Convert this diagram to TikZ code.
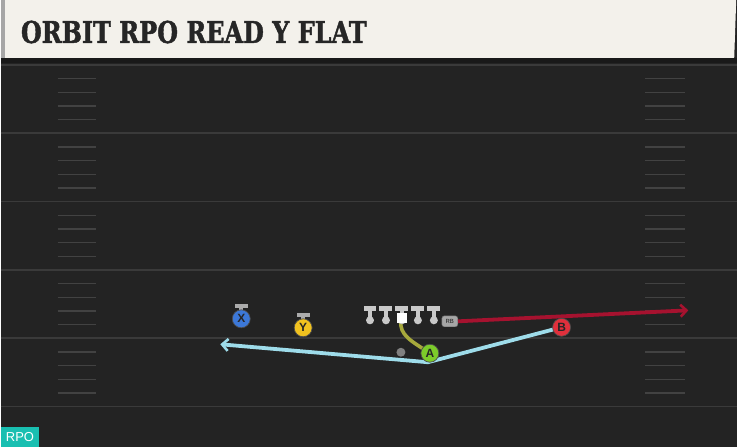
\documentclass[tikz,border=0pt]{standalone}
\usepackage{fontspec}
\usepackage{graphicx}
\usetikzlibrary{arrows.meta}
\setmainfont{Liberation Sans}
\newfontfamily\titlefont{DejaVu Serif}[BoldFeatures={FakeBold=1.6}]

\definecolor{field}{HTML}{232323}
\definecolor{yardline}{HTML}{3A3A3A}
\definecolor{hashline}{HTML}{424242}
\definecolor{header}{HTML}{F3F1EB}
\definecolor{lineman}{HTML}{C9C9C9}
\definecolor{routeblue}{HTML}{9EDCEA}
\definecolor{routered}{HTML}{A6122F}
\definecolor{routeolive}{HTML}{A7A93C}
\definecolor{xblue}{HTML}{3C78D8}
\definecolor{yyellow}{HTML}{F1C21F}
\definecolor{agreen}{HTML}{7CCB2A}
\definecolor{bred}{HTML}{E0303C}
\definecolor{rpoteal}{HTML}{19BFB1}

\tikzset{
  player/.style={circle, draw=black!70, line width=0.7pt, minimum size=18pt, inner sep=0pt,
    font=\bfseries\fontsize{12}{12}\selectfont, text=black!85},
  route/.style={line width=3.8pt},
  marker/.style={fill=lineman!85!black, draw=none},
}

\begin{document}
\begin{tikzpicture}[x=1pt,y=-1pt]
	% field
	\fill[field] (0,0) rectangle (738,448);
	\foreach \l in {65,133.5,202,270.5,339,407.5} {
		\draw[yardline, line width=1.6pt] (0,\l) -- (738,\l);
	}
	\foreach \l in {65,133.5,202,270.5,339} {
		\foreach \k in {1,2,3,4} {
			\draw[hashline, line width=1.3pt] (57,\l+\k*13.7) -- (95,\l+\k*13.7);
			\draw[hashline, line width=1.3pt] (646,\l+\k*13.7) -- (686,\l+\k*13.7);
		}
	}

	% header
	\fill[black!90] (0,58) rectangle (738,63);
	\fill[header] (0,0) -- (737,0) -- (735,58) -- (0,58) -- cycle;
	\fill[black!35] (0,0) rectangle (4,58);
	\node[anchor=base west, inner sep=0pt, text=black!85] (title) at (20,43)
		{\scalebox{0.8}[1]{\titlefont\bfseries\fontsize{30}{30}\selectfont ORBIT RPO READ Y FLAT}};

	% routes
	\coordinate (flatend) at (220,345);
	\coordinate (bendpt) at (428,363);
	\coordinate (deepend) at (689,311);
	\coordinate (snap) at (401,321);
	\coordinate (A) at (430,354);
	\coordinate (B) at (562,328);

	\draw[routeblue, route, line join=round, -{Straight Barb[length=6pt,width=12pt,line width=2.6pt]}]
		(B) -- (bendpt) -- (flatend);
	\draw[routeolive, line width=3.6pt, line cap=round] (A) .. controls (412,342) and (399,336) .. (snap);

	% line
	\foreach \x in {370,386,402,418,434} {
		\fill[lineman] (\x-6.5,306.5) rectangle (\x+6.5,311.5);
		\fill[lineman] (\x-2.3,310) rectangle (\x+2.3,320);
		\fill[lineman] (\x,321) circle (4);
	}
	\node[fill=white, minimum size=10pt, inner sep=0pt] (center) at (402,319) {};

	% running back
	\node[fill=black!35, draw=black!60, rounded corners=2.5pt, line width=0.4pt, minimum width=16pt,
		minimum height=11pt, inner sep=0pt, text=black!90, font=\fontsize{6}{6}\selectfont]
		(RB) at (450,322) {RB};
	\draw[routered, route, -{Straight Barb[length=6pt,width=12pt,line width=2.6pt]}]
		(RB.east) -- (deepend);

	% quarterback
	\fill[black!50] (401,353) circle (4.5);

	% receivers
	\fill[marker] (234.5,304.5) rectangle (247.5,308.5);
	\fill[marker] (239,308) rectangle (243,312);
	\node[player, fill=xblue] (X) at (241,319.5) {X};
	\fill[marker] (296.5,313.5) rectangle (309.5,317.5);
	\fill[marker] (301,317) rectangle (305,321);
	\node[player, fill=yyellow] (Y) at (303,328.5) {Y};
	\node[player, fill=agreen] (Anode) at (A) {A};
	\node[player, fill=bred] (Bnode) at (B) {B};

	% play tag
	\node[anchor=south west, fill=rpoteal, text=white, minimum width=38pt, minimum height=20pt,
		inner sep=0pt, font=\fontsize{13}{13}\selectfont] (tag) at (0,448) {RPO};
\end{tikzpicture}
\end{document}
